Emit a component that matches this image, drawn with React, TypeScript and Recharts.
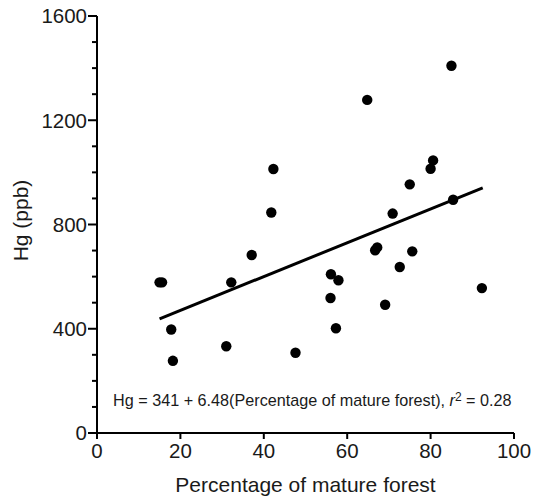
import { ScatterChart, Scatter, XAxis, YAxis, ReferenceLine } from "recharts";

const forestPct = [
    15.0, 15.6, 17.8, 18.2, 31.0, 32.2, 37.1, 41.8, 42.3, 47.6, 56.0, 56.1, 57.3,
    57.9, 64.8, 66.7, 67.2, 69.1, 70.9, 72.6, 75.0, 75.6, 80.0, 80.6, 85.0, 85.4, 92.3,
];
const hgPpb = [
    578, 578, 397, 277, 333, 578, 683, 846, 1013, 308, 518, 609, 402, 586, 1278, 701,
    712, 492, 842, 637, 954, 697, 1014, 1046, 1409, 895, 556,
];

const xTicks = [0, 20, 40, 60, 80, 100];
const yTicks = [0, 100, 200, 300, 400, 500, 600, 700, 800, 900, 1000, 1100, 1200, 1300, 1400, 1500, 1600];
const yLabelled = [0, 400, 800, 1200, 1600];

// fit reported in the figure
const intercept = 341;
const slope = 6.48;
const fitRange = [15, 92.5];

const points = forestPct.map((x, i) => ({ x, y: hgPpb[i] }));

const FONT = "'Liberation Sans', Arial, Helvetica, sans-serif";
const INK = "#1a1a1a";

const YTick = (props: any) => {
    const { x, y, payload } = props;
    const major = yLabelled.includes(payload.value);
    return (
        <g>
            <line x1={x - (major ? 9 : 5)} x2={x} y1={y} y2={y} stroke="#000" strokeWidth={2} />
            {major && (
                <text x={x - 10} y={y} dy="0.36em" textAnchor="end" fontSize={20.5} fill={INK} fontFamily={FONT}>
                    {payload.value}
                </text>
            )}
        </g>
    );
};

const Dot = (props: any) => <circle cx={props.cx} cy={props.cy} r={5.2} fill="#000" />;

export default function App() {
    return (
        <div style={{ position: "absolute", left: 0, top: 0, width: 542, height: 498, background: "#fff" }}>
            <ScatterChart width={542} height={498} margin={{ top: 16, right: 28, bottom: 0, left: 0 }}>
                <XAxis
                    type="number"
                    dataKey="x"
                    domain={[0, 100]}
                    ticks={xTicks}
                    height={65}
                    tickSize={6}
                    tickMargin={4}
                    axisLine={{ stroke: "#000", strokeWidth: 2 }}
                    tickLine={{ stroke: "#000", strokeWidth: 2 }}
                    tick={{ fill: INK, fontSize: 20.5, fontFamily: FONT }}
                    label={{
                        value: "Percentage of mature forest",
                        position: "insideBottom",
                        offset: 6,
                        fill: INK,
                        fontSize: 21,
                        fontFamily: FONT,
                    }}
                />
                <YAxis
                    type="number"
                    dataKey="y"
                    domain={[0, 1600]}
                    ticks={yTicks}
                    interval={0}
                    width={97}
                    tickSize={0}
                    tickMargin={0}
                    axisLine={{ stroke: "#000", strokeWidth: 2 }}
                    tickLine={false}
                    tick={<YTick />}
                    label={{
                        content: (p: any) => {
                            const vb = p.viewBox;
                            const cx = vb.x + 20;
                            const cy = vb.y + vb.height / 2 - 4;
                            return (
                                <text
                                    transform={`translate(${cx},${cy}) rotate(-90)`}
                                    textAnchor="middle"
                                    dy="0.36em"
                                    fontSize={21}
                                    fill={INK}
                                    fontFamily={FONT}
                                >
                                    Hg (ppb)
                                </text>
                            );
                        },
                    }}
                />
                <ReferenceLine
                    segment={[
                        { x: fitRange[0], y: intercept + slope * fitRange[0] },
                        { x: fitRange[1], y: intercept + slope * fitRange[1] },
                    ]}
                    stroke="#000"
                    strokeWidth={3}
                />
                <Scatter data={points} shape={<Dot />} isAnimationActive={false} />
            </ScatterChart>
            <div
                style={{
                    position: "absolute",
                    left: 113,
                    top: 390,
                    fontFamily: FONT,
                    fontSize: 16.2,
                    color: INK,
                    whiteSpace: "nowrap",
                    lineHeight: "21px",
                }}
            >
                Hg = 341 + 6.48(Percentage of mature forest), <i>r</i>
                <sup style={{ fontSize: 12, verticalAlign: "top", lineHeight: "14px" }}>2</sup> = 0.28
            </div>
        </div>
    );
}
